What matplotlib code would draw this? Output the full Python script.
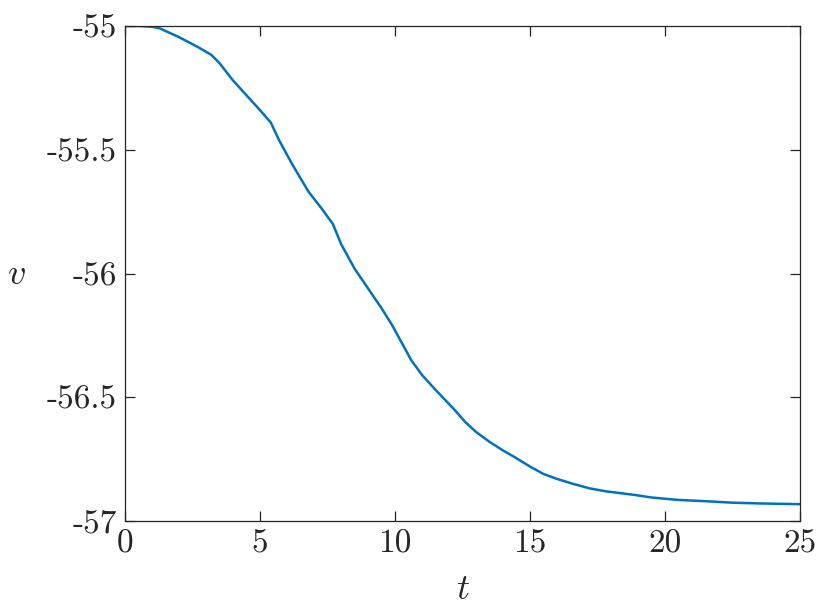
import numpy as np
import matplotlib
matplotlib.use("Agg")
import matplotlib.pyplot as plt

# values
t = [0.0, 0.5, 1.0, 1.3, 2.0, 2.7, 3.2, 3.5, 4.0, 4.5, 5.0, 5.4, 5.7, 6.2,
     6.8, 7.3, 7.7, 8.0, 8.5, 9.0, 9.5, 9.9, 10.2, 10.6, 11.0, 11.5, 12.2,
     12.6, 13.0, 13.5, 14.0, 14.4, 15.0, 15.5, 16.0, 16.6, 17.2, 17.8, 18.9,
     19.5, 20.5, 21.5, 22.5, 23.5, 25.0]
v = [-55.0, -55.0, -55.003, -55.01, -55.045, -55.085, -55.117, -55.15,
     -55.22, -55.28, -55.34, -55.39, -55.46, -55.56, -55.67, -55.74, -55.80,
     -55.88, -55.98, -56.06, -56.14, -56.21, -56.27, -56.35, -56.41, -56.47,
     -56.55, -56.60, -56.64, -56.68, -56.715, -56.74, -56.78, -56.81, -56.83,
     -56.85, -56.868, -56.88, -56.895, -56.905, -56.915, -56.92, -56.926,
     -56.929, -56.932]

xticks = [0, 5, 10, 15, 20, 25]
yticks = [-57, -56.5, -56, -55.5, -55]
ytick_labels = ["-57", "-56.5", "-56", "-55.5", "-55"]

plt.rcParams["mathtext.fontset"] = "cm"
dark = "#262626"

fig = plt.figure(figsize=(8.3, 6.15), dpi=100)
ax = fig.add_axes([125 / 830, 1 - 521 / 615, 675 / 830, 495 / 615])
ax.plot(t, v, color="#0072BD", lw=1.8)

ax.set_xlim(0, 25)
ax.set_ylim(-57, -55)
ax.set_xticks(xticks)
ax.set_xticklabels([str(x) for x in xticks], fontfamily="cmr10", fontsize=24)
ax.set_yticks(yticks)
ax.set_yticklabels(ytick_labels, fontfamily="cmr10", fontsize=24)
ax.tick_params(direction="in", length=7, width=0.9, colors=dark,
               top=True, right=True, pad=6)
for s in ax.spines.values():
    s.set_color(dark)
    s.set_linewidth(0.9)

ax.set_xlabel("$t$", fontsize=26, color=dark, labelpad=10)
ax.set_ylabel("$v$", fontsize=26, color=dark, rotation=0, labelpad=22,
              va="center")

fig.savefig("out.png", dpi=100)
